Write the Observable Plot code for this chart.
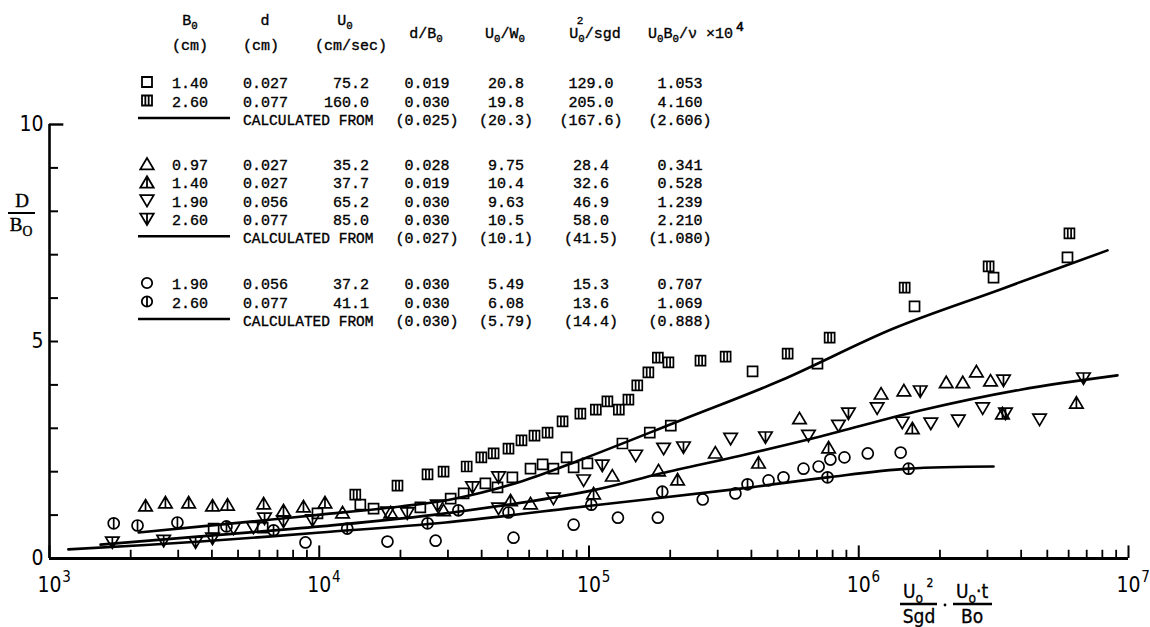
<!DOCTYPE html>
<html><head><meta charset="utf-8">
<script src="https://cdn.jsdelivr.net/npm/d3@7"></script>
<script src="https://cdn.jsdelivr.net/npm/@observablehq/plot@0.6"></script>
<style>
html,body{margin:0;padding:0;background:#fff;}
#chart svg{display:block;background:#fff;overflow:visible;}
</style></head>
<body><div id="chart"></div>
<script>
// ---------- data: D/B0 vs (U0^2/sgd)(U0 t/B0) ----------
// squares, U0/W0 ~ 20
const sqB140 = [[4.06e3,0.69],[6.17e3,0.71],[9.85e3,1.04],[1.42e4,1.24],[1.59e4,1.15],[2.37e4,1.18],[3.07e4,1.38],[3.43e4,1.50],[4.13e4,1.73],[4.58e4,1.64],[5.20e4,1.87],[6.07e4,2.07],[6.73e4,2.17],[7.38e4,2.07],[8.26e4,2.33],[8.77e4,2.10],[9.87e4,2.19],[1.33e5,2.65],[1.68e5,2.90],[2.01e5,3.06],[4.04e5,4.31],[7.03e5,4.49],[1.61e6,5.81],[3.16e6,6.47],[5.94e6,6.94]];
const sqB260 = [[1.36e4,1.47],[1.95e4,1.68],[2.52e4,1.94],[2.89e4,2.00],[3.52e4,2.12],[3.99e4,2.33],[4.43e4,2.42],[5.03e4,2.53],[5.62e4,2.72],[6.28e4,2.83],[7.02e4,2.90],[7.98e4,3.16],[9.29e4,3.34],[1.06e5,3.43],[1.17e5,3.62],[1.29e5,3.43],[1.40e5,3.66],[1.51e5,3.99],[1.66e5,4.29],[1.80e5,4.63],[1.97e5,4.52],[2.59e5,4.56],[3.21e5,4.65],[5.45e5,4.72],[7.80e5,5.09],[1.48e6,6.24],[3.03e6,6.73],[6.04e6,7.49]];
// triangles, U0/W0 ~ 10
const triB097 = [[1.22e4,1.06],[1.84e4,1.06],[2.89e4,1.11],[6.07e4,1.27],[1.22e5,1.91],[1.81e5,2.03],[2.94e5,2.44],[6.03e5,3.23],[1.21e6,3.80],[1.47e6,3.87],[2.11e6,4.06],[2.43e6,4.06],[2.73e6,4.31],[3.08e6,4.10]];
const triB140 = [[2.27e3,1.22],[2.69e3,1.29],[3.28e3,1.29],[4.02e3,1.22],[4.57e3,1.24],[6.22e3,1.27],[7.37e3,1.11],[8.74e3,1.20],[1.05e4,1.29],[5.12e4,1.34],[1.04e5,1.50],[2.13e5,1.82],[4.25e5,2.21],[7.73e5,2.56],[1.58e6,3.00],[3.41e6,3.34],[6.41e6,3.59]];
const invB190 = [[4.81e3,0.69],[5.70e3,0.71],[1.79e4,1.06],[4.62e4,1.15],[7.38e4,1.38],[9.55e4,1.80],[1.49e5,2.37],[1.89e5,2.53],[3.35e5,2.76],[6.51e5,2.83],[8.41e5,3.06],[1.17e6,3.46],[1.45e6,3.13],[1.85e6,3.11],[2.34e6,3.18],[2.88e6,3.46],[4.68e6,3.20]];
const invB260 = [[1.71e3,0.37],[2.65e3,0.41],[3.48e3,0.37],[4.02e3,0.46],[6.27e3,0.92],[7.37e3,0.85],[9.44e3,0.88],[2.12e4,1.04],[2.74e4,1.22],[3.70e4,1.64],[4.62e4,1.87],[1.12e5,2.14],[2.24e5,2.56],[4.51e5,2.79],[9.16e5,3.34],[1.69e6,3.85],[3.44e6,4.10],[3.50e6,3.34],[6.81e6,4.15]];
// circles, U0/W0 ~ 6
const cirB190 = [[8.89e3,0.37],[1.79e4,0.39],[2.70e4,0.41],[5.25e4,0.48],[8.77e4,0.78],[1.28e5,0.94],[1.80e5,0.94],[2.64e5,1.36],[3.49e5,1.50],[4.63e5,1.80],[5.26e5,1.87],[6.24e5,2.07],[7.10e5,2.12],[7.85e5,2.28],[8.85e5,2.33],[1.08e6,2.42],[1.43e6,2.44]];
const cirB260 = [[1.73e3,0.81],[2.12e3,0.76],[2.98e3,0.83],[4.53e3,0.74],[6.77e3,0.65],[1.27e4,0.69],[2.52e4,0.81],[3.28e4,1.11],[5.03e4,1.06],[1.02e5,1.24],[1.87e5,1.54],[3.87e5,1.71],[7.66e5,1.87],[1.53e6,2.07]];
// calculated curves
const calcSquares = [[2.14e3,0.60],[5.56e3,0.85],[1.01e4,1.01],[2.00e4,1.20],[3.07e4,1.36],[5.57e4,1.77],[9.55e4,2.30],[2.18e5,3.18],[5.13e5,4.10],[1.345e6,5.30],[3.35e6,6.20],[8.36e6,7.10]];
const calcTriangles = [[1.546e3,0.32],[3.63e3,0.51],[1.01e4,0.74],[2.94e4,1.04],[1.03e5,1.57],[1.84e5,1.96],[3.64e5,2.37],[7.21e5,2.81],[1.69e6,3.41],[3.98e6,3.89],[9.10e6,4.22]];
const calcCircles = [[1.175e3,0.21],[3.63e3,0.39],[1.01e4,0.60],[2.94e4,0.83],[1.03e5,1.22],[3.64e5,1.61],[7.66e5,1.87],[1.53e6,2.07],[3.16e6,2.12]];

// legend table
const legendB0 = ["1.40","2.60","0.97","1.40","1.90","2.60","1.90","2.60"];
const legendD  = ["0.027","0.077","0.027","0.027","0.056","0.077","0.056","0.077"];
const legendU0 = ["75.2","160.0","35.2","37.7","65.2","85.0","37.2","41.1"];
const legendDB = ["0.019","0.030","0.028","0.019","0.030","0.030","0.030","0.030"];
const legendUW = ["20.8","19.8","9.75","10.4","9.63","10.5","5.49","6.08"];
const legendFr = ["129.0","205.0","28.4","32.6","46.9","58.0","15.3","13.6"];
const legendRe = ["1.053","4.160","0.341","0.528","1.239","2.210","0.707","1.069"];
const calcLabel = "CALCULATED FROM";
const calcDB = ["(0.025)","(0.027)","(0.030)"];
const calcUW = ["(20.3)","(10.1)","(5.79)"];
const calcFr = ["(167.6)","(41.5)","(14.4)"];
const calcRe = ["(2.606)","(1.080)","(0.888)"];

// axes
const xMajor = [1e3,1e4,1e5,1e6,1e7];
const xMajorExp = ["3","4","5","6","7"];
const yLabels = [0,5,10];
const yTicks = [1,2,3,4,5,6,7,8,9];

// ---------- symbols ----------
const rad = s => Math.sqrt(s/Math.PI);
const symSquare = {draw(c,s){const r=rad(s);c.moveTo(-r,-r);c.lineTo(r,-r);c.lineTo(r,r);c.lineTo(-r,r);c.closePath();}};
const symSquareBars = {draw(c,s){const r=rad(s);c.moveTo(-r,-r);c.lineTo(r,-r);c.lineTo(r,r);c.lineTo(-r,r);c.closePath();c.moveTo(-r/3,-r);c.lineTo(-r/3,r);c.moveTo(r/3,-r);c.lineTo(r/3,r);}};
const symTri = {draw(c,s){const r=rad(s);c.moveTo(0,-r);c.lineTo(1.12*r,0.9*r);c.lineTo(-1.12*r,0.9*r);c.closePath();}};
const symTriBar = {draw(c,s){const r=rad(s);c.moveTo(0,-r);c.lineTo(1.12*r,0.9*r);c.lineTo(-1.12*r,0.9*r);c.closePath();c.moveTo(0,-r);c.lineTo(0,0.9*r);}};
const symInv = {draw(c,s){const r=rad(s);c.moveTo(0,r);c.lineTo(1.12*r,-0.9*r);c.lineTo(-1.12*r,-0.9*r);c.closePath();}};
const symInvBar = {draw(c,s){const r=rad(s);c.moveTo(0,r);c.lineTo(1.12*r,-0.9*r);c.lineTo(-1.12*r,-0.9*r);c.closePath();c.moveTo(0,r);c.lineTo(0,-0.9*r);}};
const symCirc = {draw(c,s){const r=rad(s);c.moveTo(r,0);c.arc(0,0,r,0,2*Math.PI);}};
const symCircBar = {draw(c,s){const r=rad(s);c.moveTo(r,0);c.arc(0,0,r,0,2*Math.PI);c.moveTo(0,-r);c.lineTo(0,r);}};

const series = [
  {data: sqB140, sym: symSquare, r: 5},
  {data: sqB260, sym: symSquareBars, r: 5},
  {data: triB097, sym: symTri, r: 6},
  {data: triB140, sym: symTriBar, r: 6},
  {data: invB190, sym: symInv, r: 6},
  {data: invB260, sym: symInvBar, r: 6},
  {data: cirB190, sym: symCirc, r: 5.5},
  {data: cirB260, sym: symCircBar, r: 5.5}
];
const toRows = a => a.map(([x,y]) => ({x,y}));

const NARROW = '"Liberation Sans Narrow","DejaVu Sans Condensed","Liberation Sans",sans-serif';
const MONO = '"Liberation Mono","Courier New","Nimbus Mono PS",monospace';

const xMinor = [];
for (const m of xMajor.slice(0,4)) for (let k=2;k<=9;k++) xMinor.push(m*k);

const plot = Plot.plot({
  width: 1150, height: 627,
  marginTop: 124, marginBottom: 69, marginLeft: 49, marginRight: 22,
  x: {type: "log", domain: [1e3, 1e7], axis: null},
  y: {domain: [0, 10], axis: null},
  style: {background: "#fff"},
  marks: [
    ...[calcSquares, calcTriangles, calcCircles].map(c =>
      Plot.line(toRows(c), {x: "x", y: "y", curve: "catmull-rom", stroke: "black", strokeWidth: 2.6})),
    ...series.map(s => Plot.dot(toRows(s.data), {x: "x", y: "y", symbol: s.sym, r: s.r, stroke: "black", strokeWidth: 1.7, fill: "none"})),
    Plot.ruleY([0], {stroke: "black", strokeWidth: 3}),
    Plot.ruleX([1e3], {y1: 0, y2: 10, stroke: "black", strokeWidth: 2.6}),
    Plot.ruleX(xMinor, {x: d => d, y1: 0, y2: 0.19, stroke: "black", strokeWidth: 1.8}),
    Plot.ruleX(xMajor, {x: d => d, y1: 0, y2: 0.29, stroke: "black", strokeWidth: 2}),
    Plot.ruleY(yTicks, {y: d => d, x1: 1e3, x2: 1.08e3, stroke: "black", strokeWidth: 2}),
    Plot.ruleY([10], {y: d => d, x1: 1e3, x2: 1.13e3, stroke: "black", strokeWidth: 2.4}),
    Plot.text(xMajor, {x: d => d, y: 0, text: () => "10", dy: 27, fontSize: 21, fontFamily: NARROW, fill: "black"}),
    Plot.text(xMajor, {x: d => d, y: 0, text: (d, i) => xMajorExp[i], dx: 17, dy: 19, fontSize: 15, fontFamily: NARROW, fill: "black"}),
    Plot.text(yLabels, {x: 1e3, y: d => d, text: d => String(d), textAnchor: "end", dx: -6, fontSize: 21, fontFamily: NARROW, fill: "black"})
  ]
});
document.getElementById("chart").append(plot);

// ---------- annotations (legend table, axis titles) ----------
const svg = d3.select(plot);
const g = svg.append("g").attr("fill", "black");

function rich(str, x, y, {anchor = "start", size = 15, family = MONO, thick = 0.35} = {}) {
  const t = g.append("text").attr("x", x).attr("y", y).attr("text-anchor", anchor)
    .attr("font-family", family).attr("font-size", size).attr("fill", "black")
    .attr("stroke", "black").attr("stroke-width", thick);
  const segs = [];
  for (let i = 0; i < str.length; i++) {
    const ch = str[i];
    if ((ch === "_" || ch === "^") && i + 1 < str.length) { segs.push({t: str[i+1], k: ch}); i++; }
    else if (segs.length && segs[segs.length-1].k === "n") segs[segs.length-1].t += ch;
    else segs.push({t: ch, k: "n"});
  }
  let cur = 0;
  for (const s of segs) {
    const target = s.k === "_" ? size * 0.28 : s.k === "^" ? -size * 0.45 : 0;
    const ts = t.append("tspan").attr("dy", target - cur).text(s.t);
    if (s.k !== "n") ts.attr("font-size", size * 0.72);
    cur = target;
  }
  return t;
}
function icon(sym, r, x, y) {
  const p = d3.path(); sym.draw(p, r * r * Math.PI);
  g.append("path").attr("d", p.toString()).attr("transform", `translate(${x},${y})`)
    .attr("fill", "none").attr("stroke", "black").attr("stroke-width", 1.8);
}

// headers
rich("B_0", 190, 25, {anchor: "middle"});
rich("(cm)", 190, 50, {anchor: "middle"});
rich("d", 265, 25, {anchor: "middle"});
rich("(cm)", 261, 50, {anchor: "middle"});
rich("U_0", 345, 25, {anchor: "middle"});
rich("(cm/sec)", 351, 50, {anchor: "middle"});
rich("d/B_0", 426, 38, {anchor: "middle"});
rich("U_0/W_0", 505, 38, {anchor: "middle"});
rich("U_0/sgd", 595, 38, {anchor: "middle"});
rich("2", 580, 24, {anchor: "middle", size: 11});
rich("U_0B_0/\u03bd \u00d710", 648, 38);
rich("4", 736, 31, {size: 13, thick: 0.6});

const rowBase = [88, 106.5, 170, 188.3, 206.6, 225, 289, 307.5];
const calcBase = [125, 243.3, 326];
rowBase.forEach((b, i) => {
  const s = series[i].sym;
  icon(s, s === symSquare || s === symSquareBars ? 5 : s === symCirc || s === symCircBar ? 5.2 : 6, 147, b - 6);
  rich(legendB0[i], 172, b);
  rich(legendD[i], 243, b);
  rich(legendU0[i], 369, b, {anchor: "end"});
  rich(legendDB[i], 427, b, {anchor: "middle"});
  rich(legendUW[i], 506, b, {anchor: "middle"});
  rich(legendFr[i], 591, b, {anchor: "middle"});
  rich(legendRe[i], 680, b, {anchor: "middle"});
});
calcBase.forEach((b, i) => {
  g.append("line").attr("x1", 138).attr("x2", 230).attr("y1", b - 7).attr("y2", b - 7)
    .attr("stroke", "black").attr("stroke-width", 2.6);
  rich(calcLabel, 243, b, {size: 14.5});
  rich(calcDB[i], 427, b, {anchor: "middle"});
  rich(calcUW[i], 506, b, {anchor: "middle"});
  rich(calcFr[i], 591, b, {anchor: "middle"});
  rich(calcRe[i], 680, b, {anchor: "middle"});
});

// y title D / B0
const SERIF = '"Liberation Serif","DejaVu Serif",serif';
rich("D", 22, 207, {anchor: "middle", size: 19, family: SERIF, thick: 0.4});
g.append("line").attr("x1", 8).attr("x2", 35).attr("y1", 213).attr("y2", 213).attr("stroke", "black").attr("stroke-width", 2);
rich("B_O", 21, 231, {anchor: "middle", size: 19, family: SERIF, thick: 0.4});

// x title (U0^2/Sgd) . (U0 t/B0)
rich("U_o", 913, 598, {anchor: "middle", size: 19, family: NARROW, thick: 0.3});
rich("2", 930, 587, {anchor: "middle", size: 12, family: NARROW, thick: 0.3});
g.append("line").attr("x1", 900).attr("x2", 937).attr("y1", 604).attr("y2", 604).attr("stroke", "black").attr("stroke-width", 2.6);
rich("Sgd", 919, 623, {anchor: "middle", size: 19, family: NARROW, thick: 0.3});
g.append("circle").attr("cx", 945).attr("cy", 605).attr("r", 1.4).attr("fill", "black");
rich("U_o\u00b7t", 972, 598, {anchor: "middle", size: 19, family: NARROW, thick: 0.3});
g.append("line").attr("x1", 953).attr("x2", 992).attr("y1", 604).attr("y2", 604).attr("stroke", "black").attr("stroke-width", 2.6);
rich("Bo", 972, 623, {anchor: "middle", size: 19, family: NARROW, thick: 0.3});
</script></body></html>
